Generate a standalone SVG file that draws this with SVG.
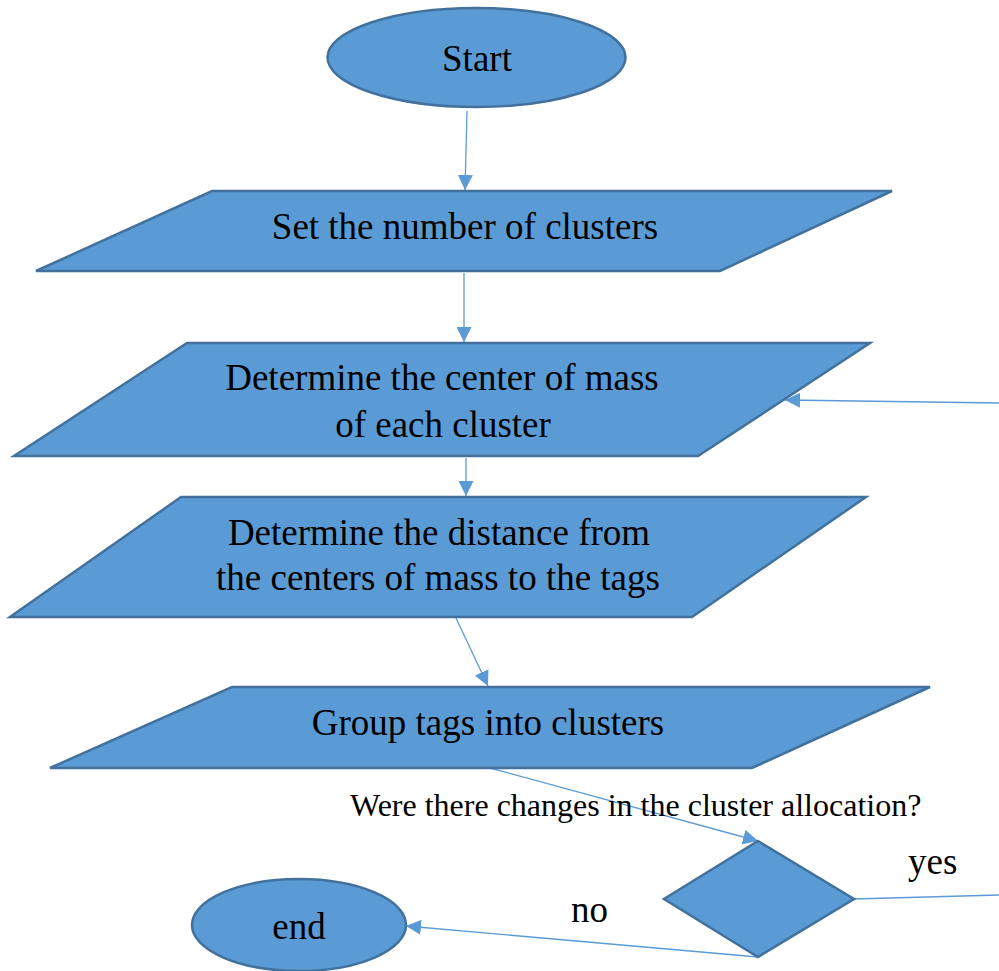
<svg xmlns="http://www.w3.org/2000/svg" width="999" height="971" viewBox="0 0 999 971">
<defs>
<style>
.shape{fill:#5B9BD5;stroke:#41719C;stroke-width:2.5}
.t{font-size:37px;fill:#000;text-anchor:middle}
.lbl{fill:#000}
.c{stroke:#5B9BD5;stroke-width:1.3;fill:none}
</style>
<marker id="ah" viewBox="0 0 10 10" refX="10" refY="5" markerWidth="15" markerHeight="15" markerUnits="userSpaceOnUse" orient="auto">
<path d="M0,0 L10,5 L0,10 z" fill="#5B9BD5"/>
</marker>
</defs>
<rect width="999" height="971" fill="#fff"/>
<g id="connectors">
<line class="c" x1="467" y1="111" x2="465" y2="190" marker-end="url(#ah)"/>
<line class="c" x1="464" y1="273" x2="464" y2="342" marker-end="url(#ah)"/>
<line class="c" x1="466" y1="458" x2="466" y2="496" marker-end="url(#ah)"/>
<line class="c" x1="456" y1="618" x2="488" y2="686" marker-end="url(#ah)"/>
<line class="c" x1="490" y1="768" x2="758" y2="841" marker-end="url(#ah)"/>
<line class="c" x1="854" y1="899" x2="999" y2="895"/>
<line class="c" x1="999" y1="403" x2="785" y2="400" marker-end="url(#ah)"/>
<line class="c" x1="758" y1="957" x2="406" y2="926" marker-end="url(#ah)"/>
</g>
<g font-family="Liberation Serif, Times New Roman, serif">
<g id="start">
<ellipse class="shape" cx="476.5" cy="57.5" rx="149" ry="49.5"/>
<text class="t" x="477" y="71">Start</text>
</g>
<g id="set-clusters">
<polygon class="shape" points="212,191 892,191 720,271 36,271"/>
<text class="t" x="465" y="239">Set the number of clusters</text>
</g>
<g id="center-of-mass">
<polygon class="shape" points="187,343 870,343 698,456 14,456"/>
<text class="t" x="442" y="390">Determine the center of mass</text>
<text class="t" x="443" y="437">of each cluster</text>
</g>
<g id="distance">
<polygon class="shape" points="181,497 866,497 692,617 10,617"/>
<text class="t" x="439" y="545">Determine the distance from</text>
<text class="t" x="438" y="590">the centers of mass to the tags</text>
</g>
<g id="group-tags">
<polygon class="shape" points="232,687 930,687 752,768 50,768"/>
<text class="t" x="488" y="735">Group tags into clusters</text>
</g>
<g id="decision">
<polygon class="shape" points="758,841 854,899 758,957 664,899"/>
</g>
<text class="lbl" x="350" y="816" font-size="32">Were there changes in the cluster allocation?</text>
<text class="lbl" x="908" y="874" font-size="37">yes</text>
<text class="lbl" x="571" y="922" font-size="37">no</text>
<g id="end">
<ellipse class="shape" cx="299" cy="925" rx="107" ry="46"/>
<text class="t" x="299" y="939">end</text>
</g>
</g>
</svg>
